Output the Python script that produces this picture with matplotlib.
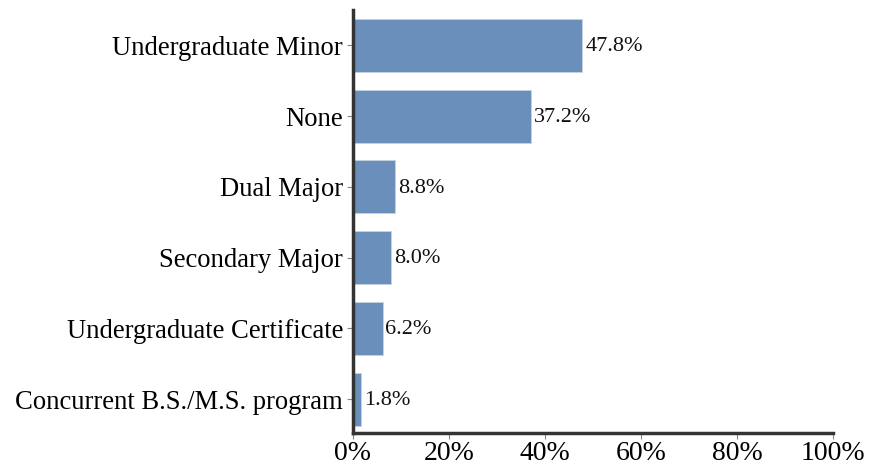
import matplotlib.pyplot as plt
from matplotlib.ticker import FuncFormatter

categories = ["Undergraduate Minor", "None", "Dual Major", "Secondary Major",
              "Undergraduate Certificate", "Concurrent B.S./M.S. program"]
values = [47.8, 37.2, 8.8, 8.0, 6.2, 1.8]

plt.rcParams['font.family'] = ['Liberation Serif', 'DejaVu Serif']

fig = plt.figure(figsize=(8.69, 4.72), dpi=100)
ax = fig.add_axes([0.406, 0.0826, 0.5526, 0.8964])

pos = list(range(len(categories)))
ax.barh(pos, values, height=0.75, color="#6a8fba", edgecolor="#c8d4e3", linewidth=0.6)
for p, v in zip(pos, values):
    ax.text(v + 0.6, p + 0.02, f"{v:.1f}%", va="center", ha="left", fontsize=16, color="#111111")

ax.set_yticks(pos)
ax.set_yticklabels(categories, fontsize=19.2)
ax.set_ylim(5.48, -0.5)
ax.set_xlim(0, 100)
ax.set_xticks([0, 20, 40, 60, 80, 100])
ax.xaxis.set_major_formatter(FuncFormatter(lambda x, _: f"{x:.0f}%"))
ax.tick_params(axis='x', labelsize=20, length=4, width=0.8, color="#888888", pad=2)
ax.tick_params(axis='y', length=4, width=0.8, color="#888888", pad=3)

for s in ["top", "right"]:
    ax.spines[s].set_visible(False)
for s in ["left", "bottom"]:
    ax.spines[s].set_linewidth(2.5)
    ax.spines[s].set_color("#333333")

fig.savefig("out.png", dpi=100)
